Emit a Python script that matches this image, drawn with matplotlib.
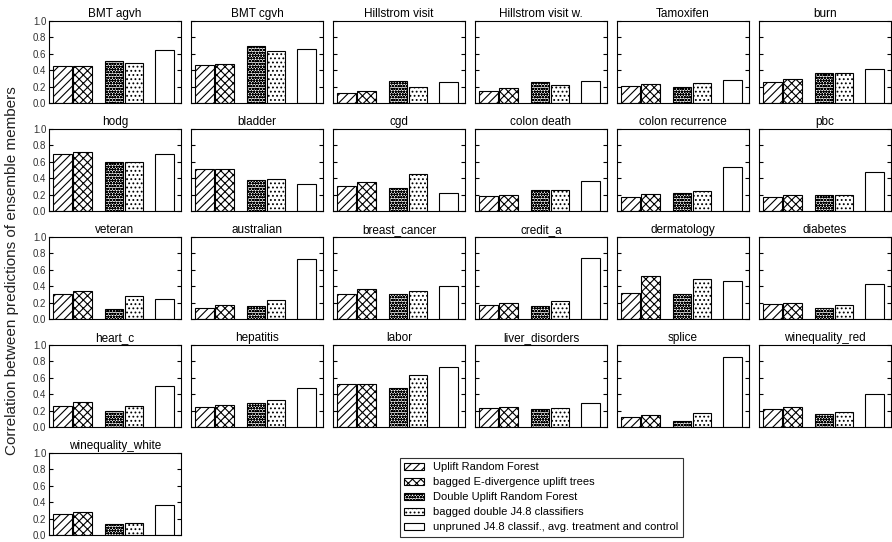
import matplotlib
matplotlib.use("Agg")
import matplotlib.pyplot as plt
from matplotlib.patches import Patch

plt.rcParams['font.family'] = ['Liberation Sans', 'DejaVu Sans']
plt.rcParams['hatch.linewidth'] = 0.8

datasets = [
    "BMT agvh", "BMT cgvh", "Hillstrom visit", "Hillstrom visit w.", "Tamoxifen", "burn",
    "hodg", "bladder", "cgd", "colon death", "colon recurrence", "pbc",
    "veteran", "australian", "breast_cancer", "credit_a", "dermatology", "diabetes",
    "heart_c", "hepatitis", "labor", "liver_disorders", "splice", "winequality_red",
    "winequality_white",
]

methods = [
    "Uplift Random Forest",
    "bagged E-divergence uplift trees",
    "Double Uplift Random Forest",
    "bagged double J4.8 classifiers",
    "unpruned J4.8 classif., avg. treatment and control",
]

uplift_rf = [0.455, 0.465, 0.12, 0.145, 0.205, 0.258,
             0.70, 0.51, 0.30, 0.18, 0.17, 0.17,
             0.31, 0.14, 0.31, 0.17, 0.32, 0.18,
             0.26, 0.25, 0.52, 0.23, 0.12, 0.22,
             0.26]
bagged_ediv = [0.455, 0.475, 0.15, 0.18, 0.23, 0.29,
               0.715, 0.51, 0.35, 0.20, 0.21, 0.20,
               0.34, 0.17, 0.37, 0.20, 0.52, 0.20,
               0.30, 0.27, 0.53, 0.25, 0.15, 0.25,
               0.28]
double_urf = [0.51, 0.69, 0.27, 0.254, 0.20, 0.36,
              0.60, 0.38, 0.28, 0.25, 0.22, 0.20,
              0.12, 0.16, 0.30, 0.16, 0.30, 0.14,
              0.20, 0.29, 0.48, 0.22, 0.07, 0.16,
              0.14]
bagged_double_j48 = [0.485, 0.635, 0.20, 0.214, 0.24, 0.363,
                     0.60, 0.39, 0.45, 0.25, 0.24, 0.20,
                     0.28, 0.23, 0.34, 0.22, 0.49, 0.17,
                     0.26, 0.33, 0.63, 0.23, 0.17, 0.18,
                     0.15]
unpruned_j48 = [0.65, 0.66, 0.26, 0.27, 0.278, 0.42,
                0.70, 0.33, 0.22, 0.37, 0.54, 0.47,
                0.25, 0.73, 0.40, 0.74, 0.46, 0.43,
                0.50, 0.48, 0.73, 0.29, 0.85, 0.40,
                0.36]

series = [uplift_rf, bagged_ediv, double_urf, bagged_double_j48, unpruned_j48]
hatches = ['////', 'xxxx', 'oooooo', '....', '']
positions = [0, 1, 2.57, 3.57, 5.1]
yticks = [0.0, 0.2, 0.4, 0.6, 0.8, 1.0]

W, H = 892, 542
fig = plt.figure(figsize=(W / 100, H / 100), dpi=100)

ax_w, ax_h = 132, 82
x0, y0, dx, dy = 49, 21, 142, 108

for i, name in enumerate(datasets):
    r, c = divmod(i, 6)
    left = x0 + dx * c
    top = y0 + dy * r
    ax = fig.add_axes([left / W, (H - top - ax_h) / H, ax_w / W, ax_h / H])
    for k in range(5):
        ax.bar(positions[k], series[k][i], width=0.93, facecolor='white',
               edgecolor='black', linewidth=0.8, hatch=hatches[k])
    ax.set_xlim(-0.68, 5.92)
    ax.set_ylim(0, 1.0)
    ax.set_xticks([])
    ax.set_yticks(yticks)
    ax.tick_params(axis='y', direction='in', length=3, width=0.8,
                   left=True, right=True, labelsize=7, labelcolor='#333333', pad=2)
    if c == 0:
        ax.set_yticklabels([f"{t:.1f}" for t in yticks])
    else:
        ax.set_yticklabels([])
    for s in ax.spines.values():
        s.set_linewidth(0.8)
    ax.set_title(name, fontsize=8.5, pad=3)

fig.text(12 / W, 0.5, "Correlation between predictions of ensemble members",
         rotation=90, va='center', ha='center', fontsize=11, color='#222222')

handles = [Patch(facecolor='white', edgecolor='black', linewidth=0.8, hatch=h)
           for h in hatches]
fig.legend(handles, methods, loc='upper left',
           bbox_to_anchor=(400 / W, 1 - 458 / H), fontsize=8,
           frameon=True, fancybox=False, edgecolor='black',
           handlelength=1.8, handleheight=0.7, handletextpad=0.8,
           labelspacing=0.45, borderpad=0.4, borderaxespad=0)
fig.legends[0].get_frame().set_linewidth(0.8)

fig.savefig("out.png", dpi=100)
